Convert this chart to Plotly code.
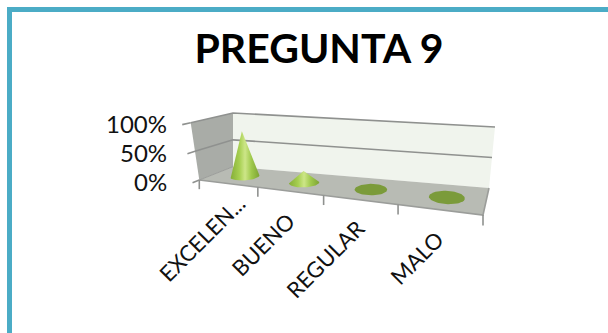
import math
import plotly.graph_objects as go

# ---- data ----
categories = ["EXCELEN...", "BUENO", "REGULAR", "MALO"]
values = [0.80, 0.20, 0.0, 0.0]
value_ticks = [0.0, 0.5, 1.0]
value_tick_labels = ["0%", "50%", "100%"]
title_text = "PREGUNTA 9"

# ---- oblique view of the chart box (layout only) ----
FL0, FR0, BL0, BR0 = (199.3, 180), (483, 215), (233, 166.7), (489, 188)
FL1, FR1, BL1, BR1 = (190.7, 122.7), (479, 150), (233, 113), (495, 127)
PERSP = 0.78
N = len(categories)


def lerp(a, b, f):
    return (a[0] + (b[0] - a[0]) * f, a[1] + (b[1] - a[1]) * f)


def project(t, d, v):
    """t: category position, d: depth 0-1, v: value 0-1 -> canvas position."""
    s = t / N
    u = PERSP * s / (1 + (PERSP - 1) * s)
    low = lerp(lerp(FL0, FR0, u), lerp(BL0, BR0, u), d)
    high = lerp(lerp(FL1, FR1, u), lerp(BL1, BR1, u), d)
    return lerp(low, high, v)


def xy(points):
    return [p[0] for p in points], [p[1] for p in points]


fig = go.Figure()


def poly(points, color):
    x, y = xy(points + points[:1])
    fig.add_trace(go.Scatter(x=x, y=y, mode="lines", fill="toself", fillcolor=color,
                             line=dict(width=0, color=color), hoverinfo="skip", showlegend=False))


def line(points, color="#8f918f", width=1.6):
    x, y = xy(points)
    fig.add_trace(go.Scatter(x=x, y=y, mode="lines", line=dict(color=color, width=width),
                             hoverinfo="skip", showlegend=False))


# walls and floor
poly([project(0, 1, 0), project(N, 1, 0), project(N, 1, 1), project(0, 1, 1)], "#f0f4ed")
poly([project(0, 0, 0), project(0, 1, 0), project(0, 1, 1), project(0, 0, 1)], "#a9aca7")
poly([project(0, 0, 0), project(N, 0, 0), project(N, 1, 0), project(0, 1, 0)], "#b8bbb4")

# value gridlines and ticks
for v in value_ticks:
    if v > 0:
        line([project(N, 1, v), project(0, 1, v), project(0, 0, v)])
    line([project(0, 0, v), project(0, -0.2, v)])
line([project(0, 0, 0), project(N, 0, 0), project(N, 1, 0)], "#9b9d9a")
line([project(0, 1, 0), project(0, 0, 0)], "#9b9d9a", 1.0)

# category ticks
for i in range(N + 1):
    top = project(i, 0, 0)
    line([top, (top[0], project(i, 0, -0.16)[1])])

# cones
R_T, R_D = 0.22, 0.26
for i, val in enumerate(values):
    t = i + 0.53
    ring = [project(t + R_T * math.cos(a * math.pi / 30), 0.5 + R_D * math.sin(a * math.pi / 30), 0)
            for a in range(60)]
    if val <= 0:
        poly(ring, "#7b9b3a")
        continue
    tip = project(t, 0.5, val)
    i_l = min(range(60), key=lambda k: ring[k][0])
    i_r = max(range(60), key=lambda k: ring[k][0])
    # the near half of the base, left to right, closed through the tip
    arc = [ring[(i_l + k) % 60] for k in range((i_r - i_l) % 60 + 1)]
    x, y = xy([tip] + arc + [tip])
    fig.add_trace(go.Scatter(
        x=x, y=y, mode="lines", fill="toself", line=dict(width=0, color="#a4cb50"),
        fillgradient=dict(type="horizontal", colorscale=[
            [0, "#86ae38"], [0.3, "#a6cf50"], [0.5, "#cde688"], [0.72, "#9fc94c"], [1, "#7da334"]]),
        hoverinfo="skip", showlegend=False))

# labels
FONT = "Lato, 'Open Sans', sans-serif"
annotations = []
for v, label in zip(value_ticks, value_tick_labels):
    p = project(0, -0.2, v)
    annotations.append(dict(x=169, y=p[1] - 1, text=label, xref="x", yref="y", showarrow=False,
                            xanchor="right", yanchor="middle",
                            font=dict(family=FONT, size=24, color="#111111")))
LABEL_OFFSETS = [(-26, 55), (-27, 53), (-34, 59), (-22, 48)]
for i, (cat, off) in enumerate(zip(categories, LABEL_OFFSETS)):
    p = project(i + 0.5, 0, 0)
    annotations.append(dict(x=p[0] + off[0], y=p[1] + off[1], text=cat, xref="x", yref="y",
                            showarrow=False, textangle=-45, xanchor="center", yanchor="middle",
                            font=dict(family=FONT, size=22, color="#111111")))

fig.update_layout(
    width=608, height=333, margin=dict(l=0, r=0, t=0, b=0),
    paper_bgcolor="white", plot_bgcolor="white", showlegend=False,
    title=dict(text=f"<b>{title_text}</b>", x=319 / 608, xanchor="center", y=1 - 49 / 333, yanchor="middle",
               font=dict(family=FONT, size=41, color="#000000")),
    xaxis=dict(range=[0, 608], visible=False, fixedrange=True),
    yaxis=dict(range=[333, 0], visible=False, fixedrange=True),
    annotations=annotations,
    shapes=[
        dict(type="line", xref="paper", yref="paper", x0=7 / 608, x1=1, y0=1 - 9.5 / 333, y1=1 - 9.5 / 333,
             line=dict(color="#4bacc6", width=5)),
        dict(type="line", xref="paper", yref="paper", x0=9.5 / 608, x1=9.5 / 608, y0=1 - 7 / 333, y1=0,
             line=dict(color="#4bacc6", width=5)),
    ],
)
fig.write_html("out.html", config=dict(displayModeBar=False),
               post_script="document.body.style.margin='0';document.body.style.overflow='hidden';")
